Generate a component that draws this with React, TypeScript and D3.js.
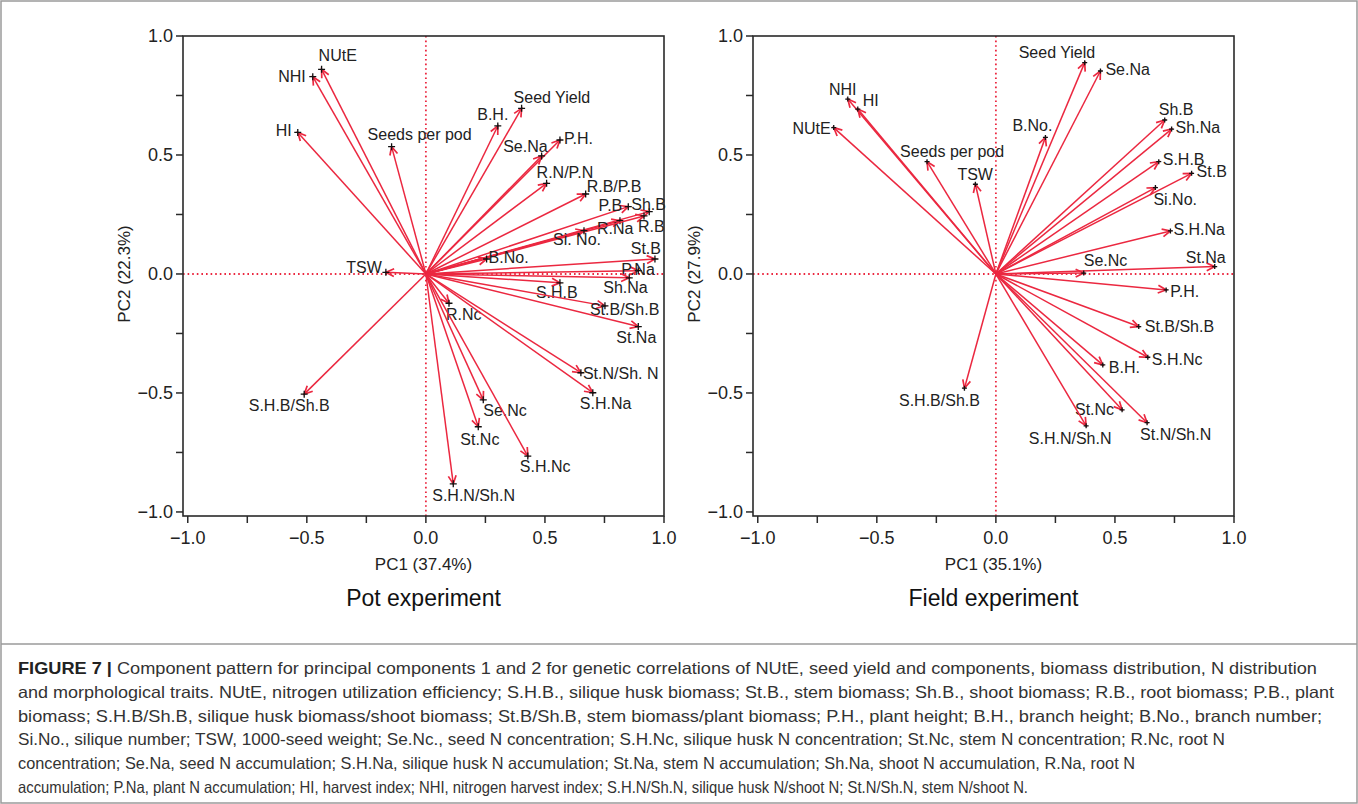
import * as d3 from 'd3';

// Pot experiment loadings (PC1, PC2)
const potNames = [
  'NUtE', 'NHI', 'HI', 'Seeds per pod', 'TSW', 'S.H.B/Sh.B', 'B.H.', 'Seed Yield', 'P.H.', 'Se.Na',
  'R.N/P.N', 'R.B/P.B', 'P.B', 'Sh.B', 'R.Na', 'R.B', 'Si. No.', 'B.No.', 'St.B', 'P.Na',
  'Sh.Na', 'S.H.B', 'R.Nc', 'St.B/Sh.B', 'St.Na', 'St.N/Sh. N', 'S.H.Na', 'Se.Nc', 'St.Nc', 'S.H.Nc',
  'S.H.N/Sh.N',
];
const potPC1 = [
  -0.438, -0.475, -0.538, -0.144, -0.168, -0.511, 0.302, 0.402, 0.563, 0.486,
  0.507, 0.671, 0.85, 0.938, 0.815, 0.916, 0.664, 0.255, 0.962, 0.892,
  0.854, 0.563, 0.097, 0.752, 0.892, 0.651, 0.701, 0.241, 0.22, 0.428,
  0.115,
];
const potPC2 = [
  0.86, 0.829, 0.595, 0.535, 0.007, -0.505, 0.622, 0.696, 0.563, 0.496,
  0.381, 0.336, 0.283, 0.262, 0.224, 0.244, 0.182, 0.063, 0.063, 0.014,
  -0.016, -0.037, -0.123, -0.134, -0.221, -0.415, -0.499, -0.529, -0.642, -0.765,
  -0.882,
];

// Field experiment loadings (PC1, PC2)
const fieldNames = [
  'NHI', 'HI', 'NUtE', 'Seeds per pod', 'TSW', 'S.H.B/Sh.B', 'Seed Yield', 'Se.Na', 'Sh.B', 'Sh.Na',
  'B.No.', 'S.H.B', 'St.B', 'Si.No.', 'S.H.Na', 'St.Na', 'Se.Nc', 'P.H.', 'St.B/Sh.B', 'S.H.Nc',
  'B.H.', 'St.Nc', 'St.N/Sh.N', 'S.H.N/Sh.N',
];
const fieldPC1 = [
  -0.622, -0.58, -0.681, -0.289, -0.086, -0.132, 0.373, 0.439, 0.709, 0.738,
  0.208, 0.684, 0.822, 0.67, 0.733, 0.919, 0.369, 0.715, 0.6, 0.638,
  0.449, 0.53, 0.635, 0.379,
];
const fieldPC2 = [
  0.735, 0.693, 0.615, 0.472, 0.377, -0.48, 0.888, 0.853, 0.647, 0.609,
  0.574, 0.472, 0.423, 0.363, 0.181, 0.031, 0.004, -0.067, -0.221, -0.35,
  -0.382, -0.571, -0.625, -0.638,
];

const majorTicks = [-1, -0.5, 0, 0.5, 1];
const minorTicks = [-0.75, -0.25, 0.25, 0.75];

const captionLines = [
  'Component pattern for principal components 1 and 2 for genetic correlations of NUtE, seed yield and components, biomass distribution, N distribution',
  'and morphological traits. NUtE, nitrogen utilization efficiency; S.H.B., silique husk biomass; St.B., stem biomass; Sh.B., shoot biomass; R.B., root biomass; P.B., plant',
  'biomass; S.H.B/Sh.B, silique husk biomass/shoot biomass; St.B/Sh.B, stem biomass/plant biomass; P.H., plant height; B.H., branch height; B.No., branch number;',
  'Si.No., silique number; TSW, 1000-seed weight; Se.Nc., seed N concentration; S.H.Nc, silique husk N concentration; St.Nc, stem N concentration; R.Nc, root N',
  'concentration; Se.Na, seed N accumulation; S.H.Na, silique husk N accumulation; St.Na, stem N accumulation; Sh.Na, shoot N accumulation, R.Na, root N',
  'accumulation; P.Na, plant N accumulation; HI, harvest index; NHI, nitrogen harvest index; S.H.N/Sh.N, silique husk N/shoot N; St.N/Sh.N, stem N/shoot N.',
];
// rendered width of each caption line
const captionWidths = [1299, 1316, 1304, 1207, 1117, 1010];

// label placement relative to arrow tip: [dx, dy, anchor]
type Place = [number, number, 'start' | 'middle' | 'end'];
const potPlace: Record<string, Place> = {
  'NUtE': [-3, -8, 'start'], 'NHI': [-7, 5, 'end'], 'HI': [-6, 4, 'end'],
  'Seeds per pod': [-24, -7, 'start'], 'TSW': [-4, 1, 'end'], 'S.H.B/Sh.B': [-15, 17, 'middle'],
  'B.H.': [-5, -6, 'middle'], 'Seed Yield': [-8, -5, 'start'], 'P.H.': [4, 4, 'start'],
  'Se.Na': [6, -4, 'end'], 'R.N/P.N': [-10, -5, 'start'], 'R.B/P.B': [1, -2, 'start'],
  'P.B': [-6, 4, 'end'], 'Sh.B': [-18, -2, 'start'], 'R.Na': [-23, 13, 'start'],
  'R.B': [-6, 16, 'start'], 'Si. No.': [-31, 14, 'start'], 'B.No.': [2, 4, 'start'],
  'St.B': [6, -5, 'end'], 'P.Na': [-17, 4, 'start'], 'Sh.Na': [-26, 15, 'start'],
  'S.H.B': [-24, 15, 'start'], 'R.Nc': [-3, 17, 'start'], 'St.B/Sh.B': [-15, 9, 'start'],
  'St.Na': [-22, 16, 'start'], 'St.N/Sh. N': [2, 6, 'start'], 'S.H.Na': [-13, 16, 'start'],
  'Se.Nc': [0, 16, 'start'], 'St.Nc': [-18, 18, 'start'], 'S.H.Nc': [-8, 16, 'start'],
  'S.H.N/Sh.N': [-21, 17, 'start'],
};
const fieldPlace: Record<string, Place> = {
  'NHI': [-5, -4, 'middle'], 'HI': [5, -3, 'start'], 'NUtE': [-3, 6, 'end'],
  'Seeds per pod': [-27, -5, 'start'], 'TSW': [-18, -4, 'start'], 'S.H.B/Sh.B': [-25, 18, 'middle'],
  'Seed Yield': [-66, -5, 'start'], 'Se.Na': [5, 4, 'start'], 'Sh.B': [-6, -5, 'start'],
  'Sh.Na': [4, 4, 'start'], 'B.No.': [-33, -6, 'start'], 'S.H.B': [4, 3, 'start'],
  'St.B': [5, 4, 'start'], 'Si.No.': [-2, 17, 'start'], 'S.H.Na': [3, 4, 'start'],
  'St.Na': [-29, -4, 'start'], 'Se.Nc': [0, -7, 'start'], 'P.H.': [4, 7, 'start'],
  'St.B/Sh.B': [6, 5, 'start'], 'S.H.Nc': [4, 8, 'start'], 'B.H.': [6, 8, 'start'],
  'St.Nc': [-8, 5, 'end'], 'St.N/Sh.N': [-7, 17, 'start'], 'S.H.N/Sh.N': [-16, 18, 'middle'],
};

const RED = '#eb2840';
const FONT = '"Liberation Sans", Arial, Helvetica, sans-serif';

interface PanelProps {
  left: number;
  names: string[];
  pc1: number[];
  pc2: number[];
  place: Record<string, Place>;
  xTitle: string;
  yTitle: string;
  title: string;
  plusSize: number;
}

const Panel = ({ left, names, pc1, pc2, place, xTitle, yTitle, title, plusSize }: PanelProps) => {
  const x = d3.scaleLinear().domain([-1.02, 1]).range([left, left + 481]);
  const y = d3.scaleLinear().domain([-1.017, 1]).range([516, 36]);
  const [x0, x1] = x.range();
  const [y0, y1] = y.range();
  const ox = x(0), oy = y(0);
  const cx = (x0 + x1) / 2;

  return (
    <g fontFamily={FONT}>
      {/* reference lines */}
      <line x1={x0} x2={x1} y1={oy} y2={oy} stroke={RED} strokeWidth={1.8} strokeDasharray="1.6 3" />
      <line x1={ox} x2={ox} y1={y0} y2={y1} stroke={RED} strokeWidth={1.8} strokeDasharray="1.6 3" />

      {/* vectors */}
      {names.map((n, i) => {
        const tx = x(pc1[i]), ty = y(pc2[i]);
        const a = Math.atan2(ty - oy, tx - ox);
        const L = 9, w = 0.45;
        const h1 = [tx - L * Math.cos(a - w), ty - L * Math.sin(a - w)];
        const h2 = [tx - L * Math.cos(a + w), ty - L * Math.sin(a + w)];
        const p = place[n] || [4, 4, 'start'];
        return (
          <g key={n}>
            <line x1={ox} y1={oy} x2={tx} y2={ty} stroke={RED} strokeWidth={1.5} />
            <path d={`M${h1[0]},${h1[1]}L${tx},${ty}L${h2[0]},${h2[1]}`} fill="none" stroke={RED} strokeWidth={1.7} />
            <path d={`M${tx - plusSize},${ty}H${tx + plusSize}M${tx},${ty - plusSize}V${ty + plusSize}`} stroke="#111" strokeWidth={1.3} />
            <text x={tx + p[0]} y={ty + p[1]} textAnchor={p[2]} fontSize={16} fill="#222">{n}</text>
          </g>
        );
      })}

      {/* frame */}
      <rect x={x0} y={y1} width={x1 - x0} height={y0 - y1} fill="none" stroke="#2a2a2a" strokeWidth={1.6} />

      {/* x axis ticks */}
      {majorTicks.concat(minorTicks).map(t => (
        <line key={'x' + t} x1={x(t)} x2={x(t)} y1={y0} y2={y0 + 7} stroke="#2a2a2a" strokeWidth={1.5} />
      ))}
      {majorTicks.map(t => (
        <text key={'xl' + t} x={x(t)} y={y0 + 28} textAnchor="middle" fontSize={18} fill="#222">{d3.format('.1f')(t)}</text>
      ))}
      {/* y axis ticks */}
      {majorTicks.concat(minorTicks).map(t => (
        <line key={'y' + t} x1={x0 - 7} x2={x0} y1={y(t)} y2={y(t)} stroke="#2a2a2a" strokeWidth={1.5} />
      ))}
      {majorTicks.map(t => (
        <text key={'yl' + t} x={x0 - 10} y={y(t) + 6} textAnchor="end" fontSize={18} fill="#222">{d3.format('.1f')(t)}</text>
      ))}

      <text x={cx} y={y0 + 54} textAnchor="middle" fontSize={17} fill="#222">{xTitle}</text>
      <text transform={`translate(${x0 - 53},${oy}) rotate(-90)`} textAnchor="middle" fontSize={17} fill="#222">{yTitle}</text>
      <text x={cx} y={y0 + 90} textAnchor="middle" fontSize={23} fill="#111">{title}</text>
    </g>
  );
};

const App = () => {
  const W = 1358, H = 804;
  return (
    <svg width={W} height={H} style={{ position: 'absolute', left: 0, top: 0, background: '#fff' }}>
      <rect x={0} y={0} width={W} height={H} fill="#fff" />
      <Panel left={183} names={potNames} pc1={potPC1} pc2={potPC2} place={potPlace}
        xTitle="PC1 (37.4%)" yTitle="PC2 (22.3%)" title="Pot experiment" plusSize={3.5} />
      <Panel left={753} names={fieldNames} pc1={fieldPC1} pc2={fieldPC2} place={fieldPlace}
        xTitle="PC1 (35.1%)" yTitle="PC2 (27.9%)" title="Field experiment" plusSize={2.5} />

      {/* caption */}
      <rect x={1} y={1} width={W - 2} height={H - 2} fill="none" stroke="#9a9a9a" strokeWidth={1.5} />
      <line x1={1} x2={W - 1} y1={644} y2={644} stroke="#9a9a9a" strokeWidth={1.5} />
      <g fontFamily={FONT} fontSize={16.5} fill="#333">
        {captionLines.map((l, i) => (
          <text key={i} x={18} y={674 + i * 23.8} textLength={captionWidths[i]} lengthAdjust="spacingAndGlyphs">
            {i === 0 && <tspan fontWeight="bold" fill="#222">FIGURE 7 | </tspan>}
            {l}
          </text>
        ))}
      </g>
    </svg>
  );
};

export default App;
